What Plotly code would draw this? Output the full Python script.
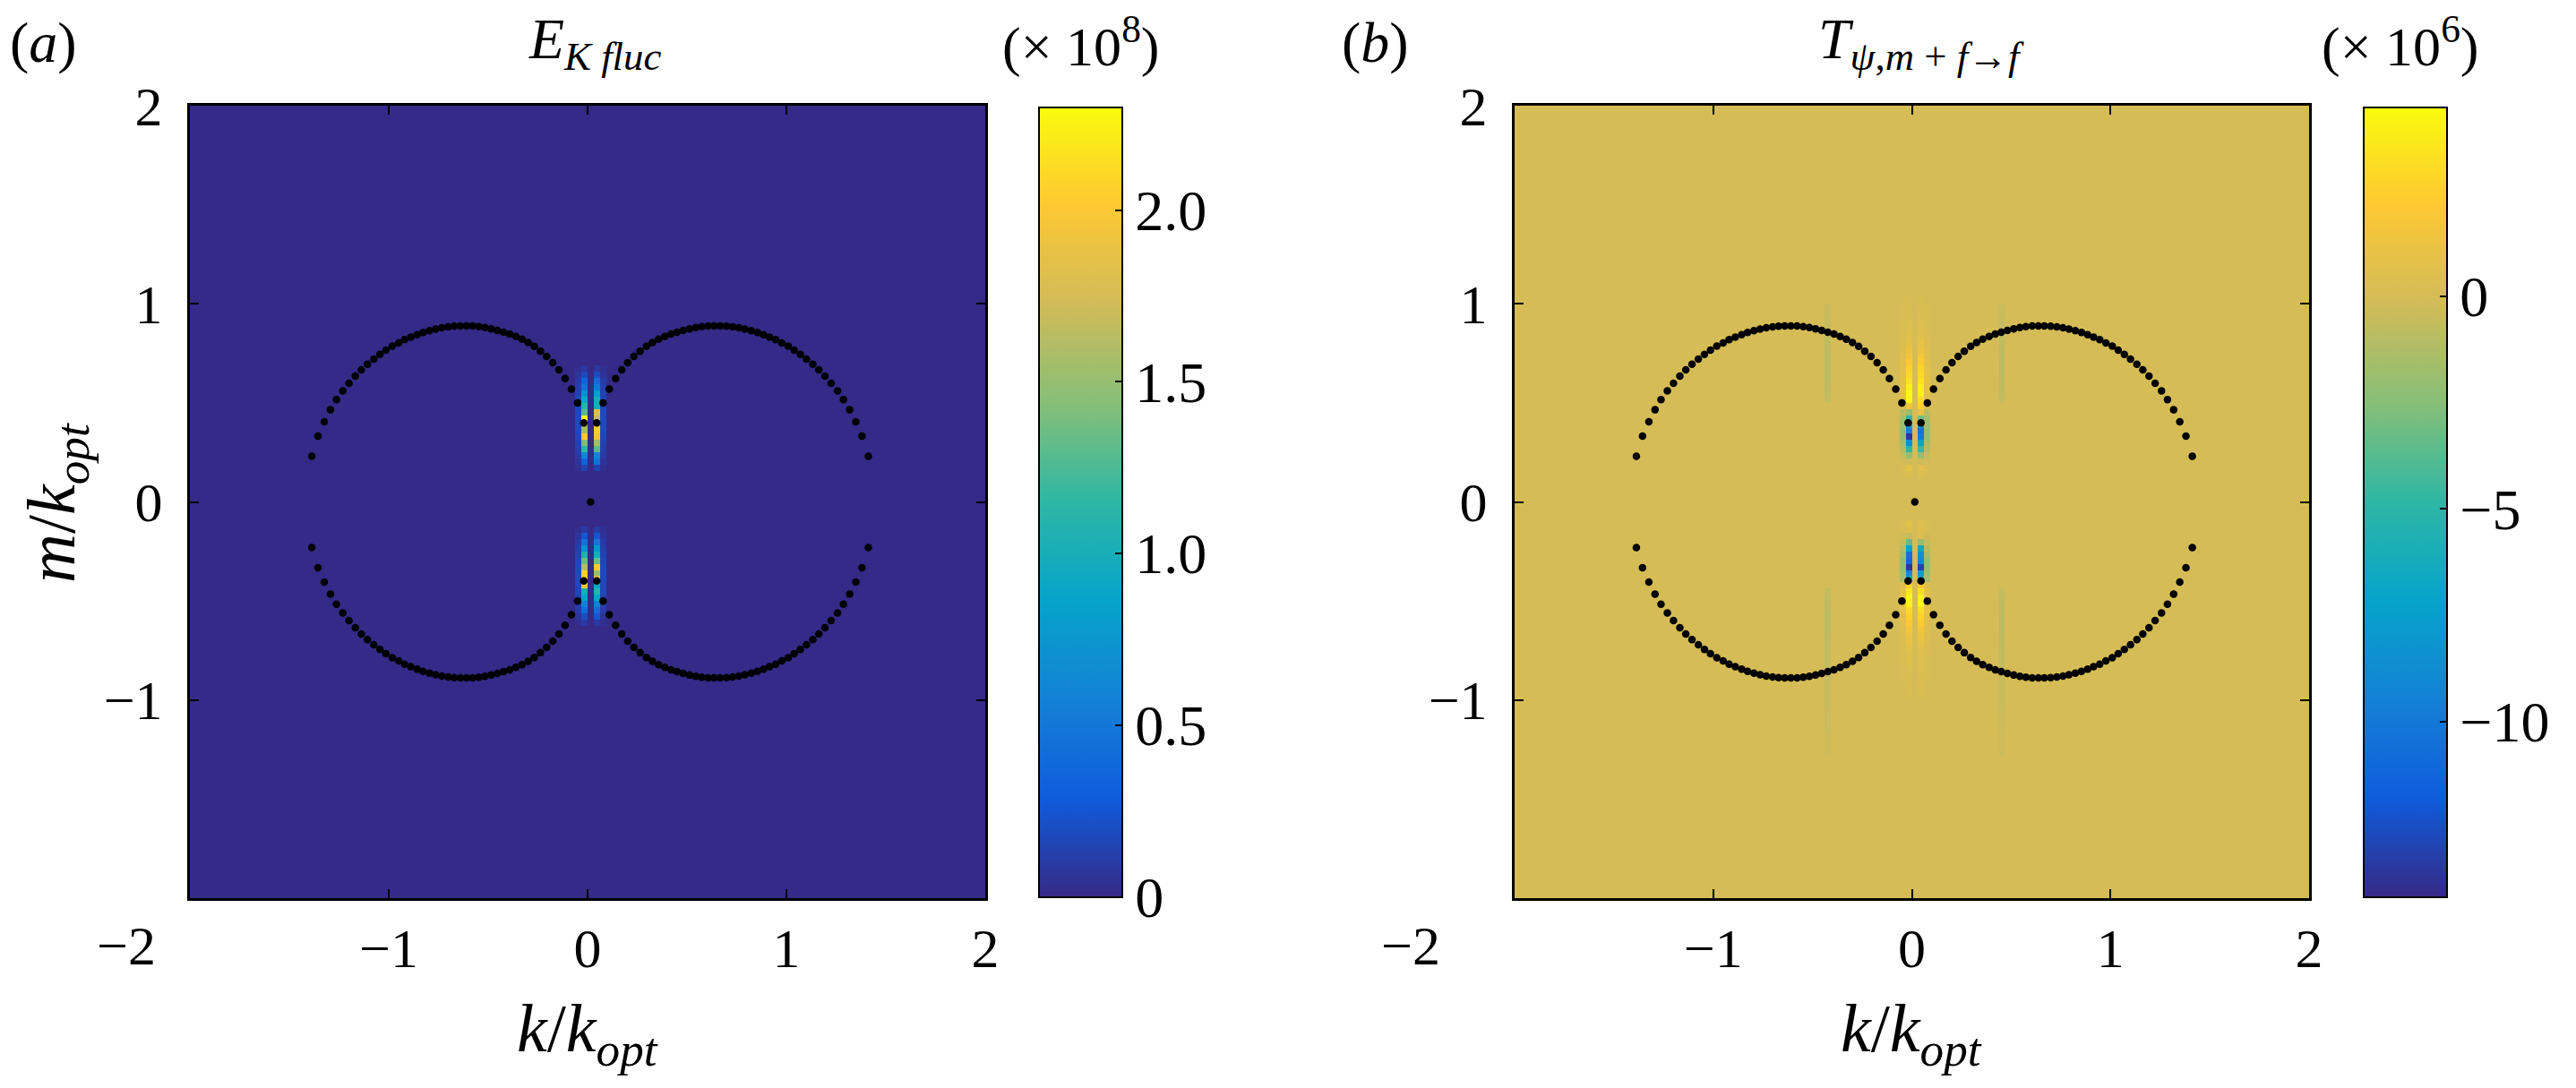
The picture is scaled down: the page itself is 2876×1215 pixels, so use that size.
import numpy as np
import plotly.graph_objects as go

# ================================
# DATA
# ================================
# resonance curve dots, left arc (outer -> inner) and right arc (inner -> outer)
k_left_arc = [-1.387, -1.356, -1.324, -1.293, -1.263, -1.231, -1.200, -1.168, -1.138,
              -1.107, -1.075, -1.044, -1.014, -0.982, -0.950, -0.920, -0.889, -0.857,
              -0.827, -0.795, -0.764, -0.733, -0.701, -0.671, -0.640, -0.609, -0.578,
              -0.547, -0.516, -0.485, -0.454, -0.423, -0.392, -0.361, -0.330, -0.299,
              -0.268, -0.237, -0.206, -0.175, -0.144, -0.113, -0.081, -0.050, -0.019]
m_left_upper = [0.230, 0.332, 0.405, 0.465, 0.516, 0.560, 0.599, 0.635, 0.667, 0.695,
                0.721, 0.745, 0.766, 0.786, 0.802, 0.819, 0.832, 0.844, 0.855, 0.864,
                0.872, 0.879, 0.884, 0.887, 0.888, 0.888, 0.888, 0.885, 0.880, 0.874,
                0.866, 0.857, 0.847, 0.835, 0.821, 0.805, 0.785, 0.761, 0.734, 0.703,
                0.667, 0.623, 0.569, 0.500, 0.399]
m_left_lower = [-0.230, -0.332, -0.405, -0.465, -0.516, -0.560, -0.599, -0.635, -0.667, -0.695,
                -0.721, -0.745, -0.766, -0.786, -0.802, -0.819, -0.832, -0.844, -0.855, -0.864,
                -0.872, -0.879, -0.884, -0.887, -0.888, -0.888, -0.888, -0.885, -0.880, -0.874,
                -0.866, -0.857, -0.847, -0.835, -0.821, -0.805, -0.785, -0.761, -0.734, -0.703,
                -0.667, -0.623, -0.569, -0.500, -0.399]
k_right_arc = [0.046, 0.078, 0.109, 0.141, 0.172, 0.202, 0.233, 0.264, 0.296, 0.326,
               0.357, 0.389, 0.420, 0.450, 0.481, 0.513, 0.544, 0.574, 0.606, 0.637,
               0.667, 0.699, 0.730, 0.761, 0.791, 0.823, 0.854, 0.885, 0.915, 0.946,
               0.977, 1.009, 1.039, 1.070, 1.101, 1.133, 1.163, 1.194, 1.225, 1.257,
               1.287, 1.318, 1.349, 1.380, 1.412]
m_right_upper = [0.399, 0.500, 0.569, 0.623, 0.667, 0.703, 0.734, 0.761, 0.785, 0.805,
                 0.821, 0.835, 0.847, 0.857, 0.866, 0.874, 0.880, 0.885, 0.888, 0.888,
                 0.888, 0.887, 0.884, 0.879, 0.872, 0.864, 0.855, 0.844, 0.832, 0.819,
                 0.802, 0.786, 0.766, 0.745, 0.721, 0.695, 0.667, 0.635, 0.599, 0.560,
                 0.516, 0.465, 0.405, 0.332, 0.230]
m_right_lower = [-0.399, -0.500, -0.569, -0.623, -0.667, -0.703, -0.734, -0.761, -0.785, -0.805,
                 -0.821, -0.835, -0.847, -0.857, -0.866, -0.874, -0.880, -0.885, -0.888, -0.888,
                 -0.888, -0.887, -0.884, -0.879, -0.872, -0.864, -0.855, -0.844, -0.832, -0.819,
                 -0.802, -0.786, -0.766, -0.745, -0.721, -0.695, -0.667, -0.635, -0.599, -0.560,
                 -0.516, -0.465, -0.405, -0.332, -0.230]
k_centre_dot = [0.015]
m_centre_dot = [0.0]

# heatmap streak columns (k of each column)
k_col_left = -0.016
k_col_right = 0.047
k_side_left = -0.047
k_side_right = 0.078

# ---- panel (a): E_K fluc (x 1e8) ----
a_m_upper = [0.672, 0.641, 0.609, 0.578, 0.547, 0.516, 0.484, 0.453, 0.422,
             0.391, 0.359, 0.328, 0.297, 0.266, 0.234, 0.203, 0.172]
a_upper_left = [0.08, 0.18, 0.35, 0.45, 0.70, 0.90, 1.10, 1.30, 2.30,
                1.55, 1.55, 2.00, 1.40, 1.15, 0.60, 0.35, 0.15]
a_upper_right = [0.08, 0.20, 0.40, 0.50, 0.80, 1.00, 1.00, 1.80, 1.70,
                 2.05, 2.05, 1.95, 1.55, 1.30, 0.60, 0.45, 0.15]
a_upper_side = [0.03, 0.06, 0.10, 0.12, 0.14, 0.16, 0.16, 0.18, 0.18,
                0.18, 0.18, 0.16, 0.14, 0.12, 0.10, 0.06, 0.03]
a_m_lower = [-0.141, -0.172, -0.203, -0.234, -0.266, -0.297, -0.328, -0.359,
             -0.391, -0.422, -0.453, -0.484, -0.516, -0.547, -0.578, -0.609]
a_lower_left = [0.10, 0.25, 0.45, 0.70, 1.05, 1.35, 1.60, 2.05,
                2.05, 1.95, 1.00, 0.85, 0.55, 0.40, 0.20, 0.10]
a_lower_right = [0.10, 0.25, 0.50, 0.75, 1.00, 1.35, 2.00, 1.50,
                 1.90, 0.90, 1.10, 0.90, 0.55, 0.40, 0.25, 0.10]
a_lower_side = [0.03, 0.06, 0.10, 0.12, 0.14, 0.16, 0.18, 0.18,
                0.18, 0.16, 0.16, 0.14, 0.12, 0.10, 0.06, 0.03]
a_cmin, a_cmax = 0.0, 2.30

# ---- panel (b): T_psi,m+f->f (x 1e6) ----
b_m_upper = [1.016, 0.984, 0.953, 0.922, 0.891,
             0.859, 0.828, 0.797, 0.766, 0.734, 0.703, 0.672, 0.641, 0.609, 0.578,
             0.547, 0.516, 0.484, 0.453, 0.422, 0.391, 0.359, 0.328, 0.297, 0.266,
             0.234, 0.203, 0.172, 0.141]
b_upper_left = [0.15, 0.2, 0.25, 0.3, 0.4,
                0.5, 0.7, 0.9, 1.2, 1.6, 2.0, 2.5, 2.8, 3.3, 4.0,
                4.4, 4.2, 1.5, -2.0, -5.0, -7.5, -9.5, -13.5, -8.5, -5.0,
                -2.0, -0.3, 0.8, 0.4]
b_upper_right = [0.15, 0.2, 0.25, 0.3, 0.4,
                 0.5, 0.7, 1.0, 1.3, 1.7, 2.2, 2.6, 2.8, 3.2, 3.8,
                 4.0, 3.0, 2.6, 1.0, -3.0, -8.0, -10.5, -10.0, -7.0, -4.5,
                 -2.0, -0.3, 0.6, 0.3]
b_upper_side = [0.05, 0.1, 0.1, 0.15, 0.15,
                0.2, 0.3, 0.4, 0.5, 0.6, 0.7, 0.8, 0.8, 0.9, 0.9,
                0.8, 0.6, 0.2, -0.8, -1.5, -1.8, -2.0, -2.0, -1.5, -1.0,
                -0.5, -0.2, 0.2, 0.1]
b_m_lower = [-0.109, -0.141, -0.172, -0.203, -0.234, -0.266, -0.297, -0.328, -0.359,
             -0.391, -0.422, -0.453, -0.484, -0.516, -0.547, -0.578, -0.609, -0.641,
             -0.672, -0.703, -0.734, -0.766, -0.797, -0.828, -0.859, -0.891, -0.922,
             -0.953, -0.984]
b_lower_left = [0.8, 0.5, -0.5, -3.5, -7.0, -10.5, -11.0, -13.5, -9.0,
                -7.0, 2.5, 3.5, 4.3, 4.0, 2.8, 2.5, 2.0, 1.6,
                1.3, 1.0, 0.8, 0.6, 0.5, 0.4, 0.3, 0.25, 0.2,
                0.15, 0.1]
b_lower_right = [0.3, 0.5, 0.3, -2.0, -6.5, -8.5, -9.0, -13.0, -7.5,
                 -6.0, 2.0, 3.2, 4.0, 4.2, 3.0, 2.6, 2.2, 1.7,
                 1.3, 1.0, 0.7, 0.5, 0.4, 0.35, 0.3, 0.25, 0.2,
                 0.15, 0.1]
b_lower_side = [0.1, 0.1, -0.2, -0.5, -1.0, -1.5, -2.0, -2.0, -1.8,
                -1.5, 0.5, 0.8, 0.9, 0.9, 0.8, 0.7, 0.6, 0.5,
                0.4, 0.3, 0.2, 0.2, 0.15, 0.1, 0.1, 0.1, 0.05,
                0.05, 0.05]
# faint far columns in (b)
k_far_left = -0.422
k_far_right = 0.453
b_far_m = [0.984, 0.953, 0.922, 0.891, 0.859, 0.828,
           0.797, 0.766, 0.734, 0.703, 0.672, 0.641, 0.609, 0.578, 0.547, 0.516,
           -0.453, -0.484, -0.516, -0.547, -0.578, -0.609, -0.641, -0.672, -0.703, -0.734,
           -0.766, -0.797, -0.828, -0.859, -0.891, -0.922, -0.953, -0.984, -1.016,
           -1.047, -1.078, -1.109, -1.141, -1.172, -1.203, -1.234, -1.266]
b_far_vals = [-0.4, -0.5, -0.5, -0.6, -0.6, -0.7,
              -0.8, -0.8, -0.9, -0.9, -0.9, -0.9, -0.8, -0.8, -0.7, -0.6,
              -0.6, -0.7, -0.8, -0.8, -0.9, -0.9, -0.9, -0.8, -0.8, -0.7,
              -0.7, -0.7, -0.6, -0.6, -0.6, -0.5, -0.5, -0.5, -0.5,
              -0.4, -0.4, -0.4, -0.4, -0.3, -0.3, -0.3, -0.3]
b_cmin, b_cmax = -14.12, 4.45

# ================================
# GRID (pcolor-like, dk = dm = 1/32)
# ================================
grid = np.arange(-2 + 1 / 64, 2, 1 / 32)


def idx(v):
    return int(np.argmin(np.abs(grid - v)))


def fill(z, k, ms, vals):
    for m, v in zip(ms, vals):
        z[idx(m), idx(k)] = v


z_a = np.zeros((len(grid), len(grid)))
fill(z_a, k_col_left, a_m_upper, a_upper_left)
fill(z_a, k_col_right, a_m_upper, a_upper_right)
fill(z_a, k_side_left, a_m_upper, a_upper_side)
fill(z_a, k_side_right, a_m_upper, a_upper_side)
fill(z_a, k_col_left, a_m_lower, a_lower_left)
fill(z_a, k_col_right, a_m_lower, a_lower_right)
fill(z_a, k_side_left, a_m_lower, a_lower_side)
fill(z_a, k_side_right, a_m_lower, a_lower_side)

z_b = np.zeros((len(grid), len(grid)))
fill(z_b, k_col_left, b_m_upper, b_upper_left)
fill(z_b, k_col_right, b_m_upper, b_upper_right)
fill(z_b, k_side_left, b_m_upper, b_upper_side)
fill(z_b, k_side_right, b_m_upper, b_upper_side)
fill(z_b, k_col_left, b_m_lower, b_lower_left)
fill(z_b, k_col_right, b_m_lower, b_lower_right)
fill(z_b, k_side_left, b_m_lower, b_lower_side)
fill(z_b, k_side_right, b_m_lower, b_lower_side)
fill(z_b, k_far_left, b_far_m, b_far_vals)
fill(z_b, k_far_right, b_far_m, b_far_vals)

# ================================
# STYLE
# ================================
W, H = 2876, 1215
OFF = 7   # page body margin compensation
parula = [[0.0, "#352a87"], [0.125, "#0f5cdd"], [0.25, "#1481d6"],
          [0.375, "#06a4ca"], [0.5, "#2eb7a4"], [0.625, "#87bf77"],
          [0.75, "#d1bb59"], [0.875, "#fec832"], [1.0, "#f9fb0e"]]
serif = "Liberation Serif, Times New Roman, serif"
tick_font = dict(family=serif, size=62, color="black")
cbar_font = dict(family=serif, size=64, color="black")


def px(x):
    return (x - OFF) / W


def py(y):
    return 1 - (y - OFF) / H


fig = go.Figure()

panels = [
    dict(z=z_a, cmin=a_cmin, cmax=a_cmax, xa="x", ya="y", cbx=1159,
         cbvals=[0, 0.5, 1.0, 1.5, 2.0], cbtext=["0", "0.5", "1.0", "1.5", "2.0"]),
    dict(z=z_b, cmin=b_cmin, cmax=b_cmax, xa="x2", ya="y2", cbx=2638,
         cbvals=[-10, -5, 0], cbtext=["\u221210", "\u22125", "0"]),
]

for p in panels:
    fig.add_trace(go.Heatmap(
        x=grid, y=grid, z=p["z"], zmin=p["cmin"], zmax=p["cmax"],
        colorscale=parula, xaxis=p["xa"], yaxis=p["ya"], hoverinfo="skip",
        colorbar=dict(
            x=px(p["cbx"]), xanchor="left", y=py(559.5), yanchor="middle",
            thickness=93, thicknessmode="pixels", len=882, lenmode="pixels",
            xpad=0, ypad=0, outlinewidth=2, outlinecolor="black",
            ticks="inside", ticklen=9, tickwidth=2, tickcolor="black",
            tickvals=p["cbvals"], ticktext=p["cbtext"], tickprefix="   \u2009",
            tickfont=cbar_font,
        ),
    ))
    for kk, mm in [(k_left_arc, m_left_upper), (k_left_arc, m_left_lower),
                   (k_right_arc, m_right_upper), (k_right_arc, m_right_lower),
                   (k_centre_dot, m_centre_dot)]:
        fig.add_trace(go.Scatter(
            x=kk, y=mm, mode="markers", xaxis=p["xa"], yaxis=p["ya"],
            marker=dict(color="black", size=8.5, line=dict(width=0)),
            showlegend=False, hoverinfo="skip",
        ))

axis_common = dict(
    range=[-2, 2], showgrid=False, zeroline=False, showline=True,
    linecolor="black", linewidth=3, mirror="allticks", ticks="inside",
    ticklen=10, tickwidth=2, tickcolor="black", tickfont=tick_font,
    tickvals=[-1, 0, 1, 2], ticktext=["\u22121", "0", "1", "2"],
)
xstyle = dict(ticklabelstandoff=0, **axis_common)
ystyle = dict(ticklabelstandoff=15, **axis_common)

fig.update_layout(
    width=W, height=H,
    margin=dict(l=0, r=0, t=0, b=0, autoexpand=False),
    paper_bgcolor="white", plot_bgcolor="white", showlegend=False,
    xaxis=dict(domain=[px(211), px(1099)], anchor="y", **xstyle),
    yaxis=dict(domain=[py(1002), py(117)], anchor="x", **ystyle),
    xaxis2=dict(domain=[px(1690), px(2577)], anchor="y2", **xstyle),
    yaxis2=dict(domain=[py(1002), py(117)], anchor="x2", **ystyle),
)

# ================================
# TEXT
# ================================
def note(text, x, y, size, angle=0):
    fig.add_annotation(
        text=text, x=px(x), y=py(y), xref="paper", yref="paper",
        xanchor="center", yanchor="middle", showarrow=False, textangle=angle,
        font=dict(family=serif, size=size, color="black"),
    )


note("(<i>a</i>)", 47, 46, 64)
note("(<i>b</i>)", 1534, 46, 64)
note("<i>E</i><sub><i>K fluc</i></sub>", 663, 47, 64)
note("<i>T</i><sub><i>\u03c8</i>,<i>m</i> + <i>f</i>\u2192<i>f</i></sub>", 2144, 47, 64)
note("(\u00d7 10<sup>8</sup>)", 1205, 46, 62)
note("(\u00d7 10<sup>6</sup>)", 2678, 46, 62)
note("\u22122", 140, 1055, 62)
note("\u22122", 1574, 1055, 62)
note("<i>k</i>/<i>k</i><sub><i>opt</i></sub>", 655, 1153, 76)
note("<i>k</i>/<i>k</i><sub><i>opt</i></sub>", 2133, 1153, 76)
note("<i>m</i>/<i>k</i><sub><i>opt</i></sub>", 62, 560, 76, angle=-90)

fig.write_html("out.html")
